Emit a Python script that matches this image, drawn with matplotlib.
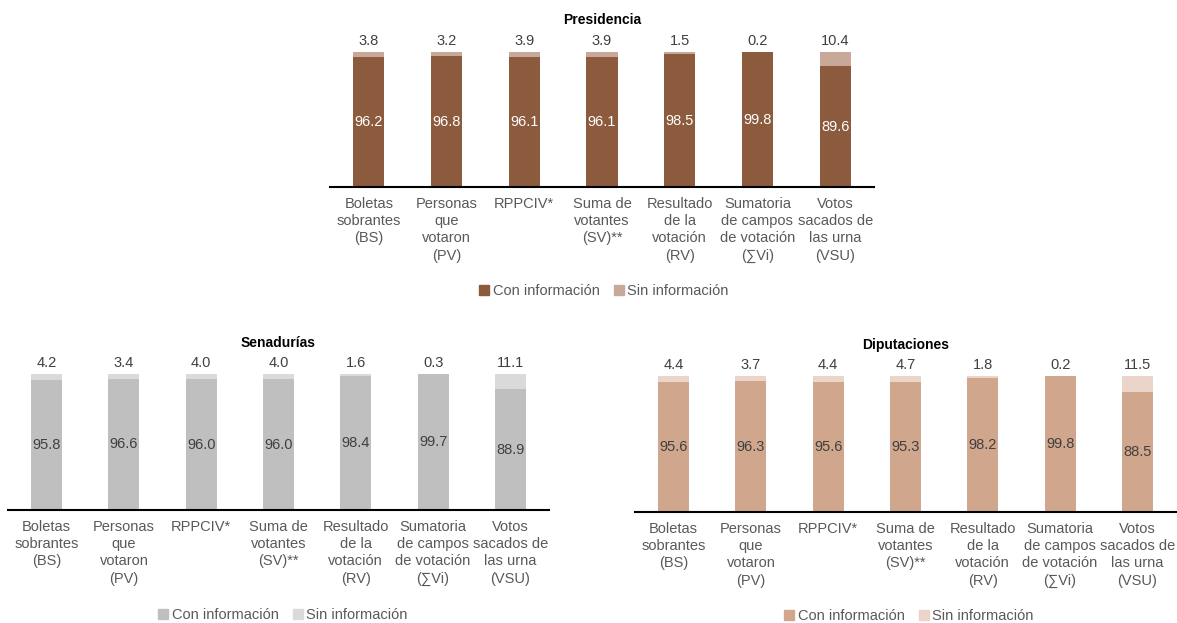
import matplotlib
matplotlib.use("Agg")
import matplotlib.pyplot as plt
from matplotlib.patches import Patch

plt.rcParams['font.family'] = ['Liberation Sans', 'DejaVu Sans']

categories = ["Boletas\nsobrantes\n(BS)", "Personas\nque\nvotaron\n(PV)", "RPPCIV*",
              "Suma de\nvotantes\n(SV)**", "Resultado\nde la\nvotación\n(RV)",
              "Sumatoria\nde campos\nde votación\n(∑Vi)", "Votos\nsacados de\nlas urna\n(VSU)"]

pres_con = [96.2, 96.8, 96.1, 96.1, 98.5, 99.8, 89.6]
pres_sin = [3.8, 3.2, 3.9, 3.9, 1.5, 0.2, 10.4]
sen_con = [95.8, 96.6, 96.0, 96.0, 98.4, 99.7, 88.9]
sen_sin = [4.2, 3.4, 4.0, 4.0, 1.6, 0.3, 11.1]
dip_con = [95.6, 96.3, 95.6, 95.3, 98.2, 99.8, 88.5]
dip_sin = [4.4, 3.7, 4.4, 4.7, 1.8, 0.2, 11.5]

series_labels = ["Con información", "Sin información"]

W, H = 1177, 623
fig = plt.figure(figsize=(W / 100, H / 100), dpi=100)

def px_axes(left, right, base, top):
    return fig.add_axes([left / W, 1 - base / H, (right - left) / W, (base - top) / H])

panels = [
    dict(title="Presidencia", con=pres_con, sin=pres_sin, box=(330, 874, 187, 52),
         c1="#8C5A3C", c2="#C8A898", inner="white", title_y=20,
         leg=(604, 291)),
    dict(title="Senadurías", con=sen_con, sin=sen_sin, box=(8, 549, 510, 374),
         c1="#BFBFBF", c2="#DADADA", inner="#404040", title_y=343,
         leg=(283, 615)),
    dict(title="Diputaciones", con=dip_con, sin=dip_sin, box=(635, 1176, 512, 376),
         c1="#D0A68C", c2="#EBD4C9", inner="#404040", title_y=345,
         leg=(909, 616)),
]

txt_color = "#595959"
for p in panels:
    l, r, b, t = p["box"]
    ax = px_axes(l, r, b, t)
    x = list(range(len(categories)))
    ax.bar(x, p["con"], width=0.4, color=p["c1"], label=series_labels[0])
    ax.bar(x, p["sin"], width=0.4, bottom=p["con"], color=p["c2"], label=series_labels[1])
    ax.set_xlim(-0.5, 6.5)
    ax.set_ylim(0, 100)
    for i in x:
        ax.text(i, p["con"][i] / 2, f"{p['con'][i]:.1f}", ha="center", va="center",
                fontsize=10.5, color=p["inner"])
        ax.text(i, 100 + 3, f"{p['sin'][i]:.1f}", ha="center", va="bottom",
                fontsize=10.5, color="#404040", clip_on=False)
    ax.set_xticks(x)
    ax.set_xticklabels(categories, fontsize=10.5, color=txt_color, linespacing=1.3)
    ax.tick_params(axis="x", length=0, pad=7)
    ax.set_yticks([])
    for s in ["top", "right", "left"]:
        ax.spines[s].set_visible(False)
    ax.spines["bottom"].set_linewidth(1.5)
    ax.spines["bottom"].set_color("black")
    ax.patch.set_alpha(0)
    fig.text((l + r) / 2 / W, 1 - p["title_y"] / H, p["title"], ha="center", va="center",
             fontsize=10, fontweight="bold", color="black")
    handles = [Patch(color=p["c1"]), Patch(color=p["c2"])]
    fig.legend(handles, series_labels, loc="center",
               bbox_to_anchor=(p["leg"][0] / W, 1 - p["leg"][1] / H),
               ncol=2, frameon=False, fontsize=10.5, handlelength=0.65, handleheight=0.65,
               handletextpad=0.25, columnspacing=1.0, labelcolor=txt_color)

fig.savefig("out.png", dpi=100)
